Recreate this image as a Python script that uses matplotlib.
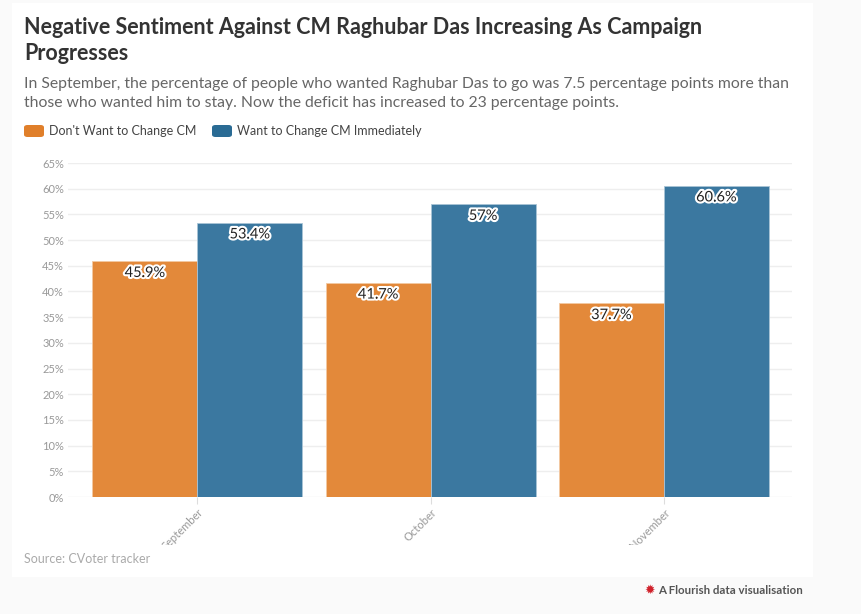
import numpy as np
import matplotlib.pyplot as plt
import matplotlib.patheffects as pe
from matplotlib.patches import Rectangle, FancyBboxPatch
from matplotlib.transforms import Bbox

plt.rcParams['font.family'] = ['Lato', 'DejaVu Sans']

# données
months = ['September', 'October', 'November']
dont_change = [45.9, 41.7, 37.7]
want_change = [53.4, 57.0, 60.6]
dont_labels = ['45.9%', '41.7%', '37.7%']
want_labels = ['53.4%', '57%', '60.6%']
yticks = list(range(0, 70, 5))

orange = '#e3893a'
blue = '#3b78a0'

W, H = 862, 614
fig = plt.figure(figsize=(W / 100, H / 100), dpi=100, facecolor='#fafafa')

# carte blanche
fig.patches.append(Rectangle((12 / W, 1 - 577 / H), 801 / W, 574 / H,
                             transform=fig.transFigure, facecolor='white',
                             edgecolor='none', zorder=-5))

# titre et sous-titre
fig.text(24 / W, 1 - 27 / H, 'Negative Sentiment Against CM Raghubar Das Increasing As Campaign',
         fontsize=15.5, fontweight='bold', color='#333333', va='center')
fig.text(24 / W, 1 - 53 / H, 'Progresses', fontsize=15.5, fontweight='bold',
         color='#333333', va='center')
fig.text(24 / W, 1 - 84 / H, 'In September, the percentage of people who wanted Raghubar Das to go was 7.5 percentage points more than',
         fontsize=11.3, color='#666666', va='center')
fig.text(24 / W, 1 - 103 / H, 'those who wanted him to stay. Now the deficit has increased to 23 percentage points.',
         fontsize=11.3, color='#666666', va='center')

# légende
for x0, col, lab in [(24, '#e07f2a', "Don't Want to Change CM"),
                     (212, '#2a6b94', 'Want to Change CM Immediately')]:
    fig.patches.append(FancyBboxPatch((x0 / W, 1 - 137 / H), 20 / W, 12 / H,
                                      boxstyle='round,pad=0,rounding_size=0.004',
                                      transform=fig.transFigure, facecolor=col,
                                      edgecolor='none'))
    fig.text((x0 + 25) / W, 1 - 131 / H, lab, fontsize=9, color='#444444', va='center')

# graphique
ax = fig.add_axes([68 / W, 1 - 497 / H, (792 - 68) / W, (497 - 163) / H], zorder=2)
ax.set_facecolor('none')
x = np.arange(len(months))
w = 0.45
ax.bar(x - w / 2, dont_change, w, color=orange, edgecolor='#f3c9a3', linewidth=0.6, zorder=3)
ax.bar(x + w / 2, want_change, w, color=blue, edgecolor='#a9c4d6', linewidth=0.6, zorder=3)

stroke = [pe.withStroke(linewidth=3, foreground='white')]
for i in range(len(months)):
    for xv, v, lab in [(x[i] - w / 2, dont_change[i], dont_labels[i]),
                       (x[i] + w / 2, want_change[i], want_labels[i])]:
        ax.annotate(lab, (xv, v), xytext=(0, -8.5), textcoords='offset points',
                    ha='center', va='center', fontsize=10.5, color='#222222',
                    path_effects=stroke, zorder=5)

ax.set_xlim(-0.555, 2.549)
ax.set_ylim(0, 65)
ax.set_yticks(yticks)
ax.set_yticklabels([f'{t}%' for t in yticks])
ax.grid(axis='y', color='#eeeeee', linewidth=1, zorder=0)
for s in ax.spines.values():
    s.set_visible(False)
ax.tick_params(axis='y', length=0, labelsize=8, labelcolor='#999999', pad=3)
ax.tick_params(axis='x', length=5, color='#dddddd', labelsize=8, labelcolor='#999999', pad=2)
ax.set_xticks(x)
ax.set_xticklabels(months, rotation=45, ha='right', va='top', rotation_mode='anchor')

# les étiquettes coupées en bas comme dans l'original
clip = Bbox.from_extents(0, H - 545, W, H)
for t in ax.get_xticklabels():
    t.set_clip_box(clip)
    t.set_clip_on(True)

fig.text(24 / W, 1 - 559 / H, 'Source: CVoter tracker', fontsize=9, color='#aaaaaa', va='center')
fig.text(650 / W, 1 - 590 / H, '\u2739', fontsize=9, color='#d0202a', va='center', ha='center',
         family='DejaVu Sans')
fig.text(658 / W, 1 - 590 / H, 'A Flourish data visualisation', fontsize=8.3,
         fontweight='bold', color='#555555', va='center')

fig.savefig('out.png', dpi=100, facecolor=fig.get_facecolor())
